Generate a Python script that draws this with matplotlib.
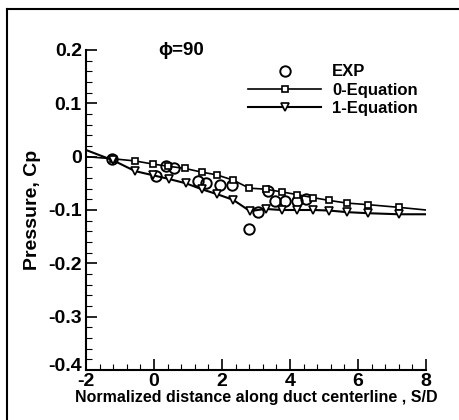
import matplotlib
matplotlib.use("Agg")
import matplotlib.pyplot as plt
import matplotlib.transforms as mtransforms
from matplotlib.ticker import MultipleLocator
from matplotlib.lines import Line2D

plt.rcParams['font.family'] = ['Liberation Sans', 'DejaVu Sans']
plt.rcParams['font.weight'] = 'bold'

# DATA
# 0-Equation (line runs past the first/last marker)
zero_x = [-2.0, -1.2, -0.56, -0.02, 0.42, 0.91, 1.40, 1.84, 2.33, 2.80, 3.28, 3.75, 4.20, 4.69, 5.15, 5.67, 6.30, 7.20, 8.0]
zero_y = [0.0, -0.004, -0.008, -0.014, -0.018, -0.022, -0.029, -0.034, -0.044, -0.059, -0.061, -0.066, -0.071, -0.077, -0.082, -0.087, -0.090, -0.095, -0.100]
# 1-Equation
one_x = [-2.0, -1.2, -0.56, -0.02, 0.45, 0.94, 1.40, 1.84, 2.33, 2.82, 3.28, 3.75, 4.20, 4.69, 5.15, 5.67, 6.30, 7.20, 8.0]
one_y = [0.0125, -0.007, -0.027, -0.035, -0.042, -0.050, -0.061, -0.070, -0.081, -0.102, -0.098, -0.100, -0.100, -0.100, -0.101, -0.104, -0.106, -0.108, -0.108]
# experiment
exp_x = [-1.25, 0.05, 0.35, 0.58, 1.30, 1.53, 1.94, 2.28, 2.80, 3.06, 3.35, 3.57, 3.86, 4.20, 4.48]
exp_y = [-0.005, -0.036, -0.017, -0.021, -0.045, -0.049, -0.054, -0.054, -0.135, -0.103, -0.064, -0.084, -0.084, -0.083, -0.080]

fig = plt.figure(figsize=(4.59, 4.20), dpi=100)
ax = fig.add_axes([86/459, 1-370/420, 340/459, 320/420])

ax.plot(exp_x, exp_y, linestyle='none', marker='o', markersize=7.5,
        markerfacecolor='none', markeredgecolor='black', markeredgewidth=1.4, label='EXP')
ax.plot(zero_x, zero_y, color='black', linewidth=1.2, marker='s', markersize=5,
        markerfacecolor='white', markeredgecolor='black', markeredgewidth=1.2,
        markevery=range(1, len(zero_x)-1), label='0-Equation')
ax.plot(one_x, one_y, color='black', linewidth=1.5, marker='v', markersize=5.5,
        markerfacecolor='white', markeredgecolor='black', markeredgewidth=1.2,
        markevery=range(1, len(one_x)-1), label='1-Equation')

ax.set_xlim(-2, 8)
ax.set_ylim(-0.4, 0.2)
ax.spines['top'].set_visible(False)
ax.spines['right'].set_visible(False)
ax.spines['left'].set_linewidth(1.5)
ax.spines['bottom'].set_linewidth(1.5)
ax.xaxis.set_major_locator(MultipleLocator(2))
ax.xaxis.set_minor_locator(MultipleLocator(0.4))
ax.yaxis.set_major_locator(MultipleLocator(0.1))
ax.yaxis.set_minor_locator(MultipleLocator(0.02))
ax.tick_params(which='major', direction='in', length=8, width=1.2, labelsize=14)
ax.tick_params(which='minor', direction='in', length=4, width=0.8)
ax.tick_params(axis='x', pad=2)
ax.tick_params(axis='y', pad=3)
ax.set_yticks([0.2, 0.1, 0, -0.1, -0.2, -0.3, -0.4])
ax.set_yticklabels(['0.2', '0.1', '0', '-0.1', '-0.2', '-0.3', '-0.4'])
ax.set_xticks([-2, 0, 2, 4, 6, 8])
ax.set_xticklabels(['-2', '0', '2', '4', '6', '8'])
for t in ax.get_xticklabels() + ax.get_yticklabels():
    t.set_fontweight('bold')

# lowest y label sits a little above the axis corner, as in the original
low = ax.get_yticklabels()[-1]
low.set_transform(low.get_transform() + mtransforms.ScaledTranslation(0, 4/72, fig.dpi_scale_trans))

ax.set_xlabel('Normalized distance along duct centerline , S/D', fontsize=11.5, fontweight='bold', labelpad=0)
ax.set_ylabel('Pressure, Cp', fontsize=14, fontweight='bold', labelpad=5)

ax.text(0.12, 0.19, '\u03d5=90', fontsize=13.5, fontweight='bold', ha='left', va='baseline')

leg = ax.legend(loc='upper left', bbox_to_anchor=(0.476, 0.955), frameon=False, fontsize=12,
                handlelength=4.4, handletextpad=0.66, labelspacing=0.2,
                borderpad=0, borderaxespad=0)
for t in leg.get_texts():
    t.set_fontweight('bold')

# outer frame around the picture
fig.add_artist(Line2D([7/459, 7/459], [0, 1-9/420], color='black', linewidth=1.5))
fig.add_artist(Line2D([7/459, 1], [1-9/420, 1-9/420], color='black', linewidth=1.5))

plt.savefig('out.png', dpi=100)
